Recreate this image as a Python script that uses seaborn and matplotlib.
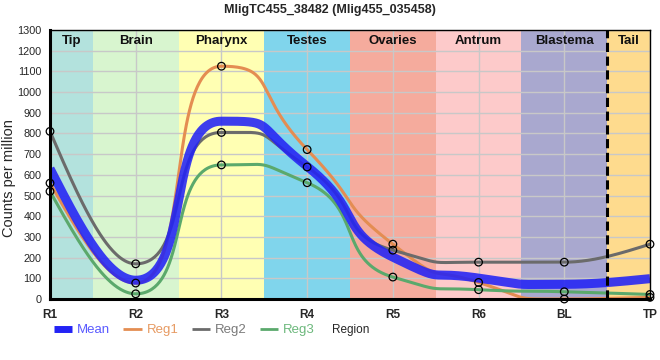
import numpy as np
import pandas as pd
import matplotlib
matplotlib.use("Agg")
import matplotlib.pyplot as plt
import seaborn as sns
from matplotlib.lines import Line2D

regions = ["R1", "R2", "R3", "R4", "R5", "R6", "BL", "TP"]
reg1 = [560, 77, 1125, 722, 265, 80, 0, 8]
reg2 = [810, 170, 805, 638, 236, 178, 178, 265]
reg3 = [520, 25, 648, 562, 106, 45, 35, 22]
mean = [(a + b + c) / 3 for a, b, c in zip(reg1, reg2, reg3)]

band_names = ["Tip", "Brain", "Pharynx", "Testes", "Ovaries", "Antrum", "Blastema", "Tail"]
band_colors = ["#b3e2dd", "#d8f5cf", "#ffffb3", "#80d5ec", "#f5ab9d", "#fdcaca", "#a9a8cf", "#fedb8e"]
title = "MligTC455_38482 (Mlig455_035458)"

series_colors = {"Mean": "#2323f5", "Reg1": "#e48d52", "Reg2": "#6b6b6b", "Reg3": "#5ba96c"}


def smooth_curve(x, y, a_mid=0.65, a_end=1 / 3, n=80):
    """Monotone (Steffen) tangents, cubic Bezier segments."""
    x = np.asarray(x, float); y = np.asarray(y, float)
    h = np.diff(x); d = np.diff(y) / h
    k = len(x); m = np.zeros(k)
    for i in range(1, k - 1):
        p = (d[i - 1] * h[i] + d[i] * h[i - 1]) / (h[i - 1] + h[i])
        m[i] = (np.sign(d[i - 1]) + np.sign(d[i])) * min(abs(d[i - 1]), abs(d[i]), 0.5 * abs(p))
    m[0] = (3 * d[0] - m[1]) / 2
    m[-1] = (3 * d[-1] - m[-2]) / 2
    xs, ys = [], []
    t = np.linspace(0, 1, n)
    for i in range(k - 1):
        a = a_end if i in (0, k - 2) else a_mid
        p0 = np.array([x[i], y[i]])
        p1 = np.array([x[i] + a * h[i], y[i] + a * h[i] * m[i]])
        p2 = np.array([x[i + 1] - a * h[i], y[i + 1] - a * h[i] * m[i + 1]])
        p3 = np.array([x[i + 1], y[i + 1]])
        b = ((1 - t) ** 3)[:, None] * p0 + (3 * (1 - t) ** 2 * t)[:, None] * p1 \
            + (3 * (1 - t) * t ** 2)[:, None] * p2 + (t ** 3)[:, None] * p3
        xs.append(b[:, 0]); ys.append(b[:, 1])
    return np.concatenate(xs), np.concatenate(ys)


fig = plt.figure(figsize=(6.6, 3.6), dpi=100)
sns.set_style("white")
plt.rcParams["font.family"] = ["Liberation Sans", "DejaVu Sans"]
ax = fig.add_axes([50 / 660, 1 - 299 / 360, 600 / 660, 269 / 360])

xpos = np.arange(len(regions))

for i, (nm, c) in enumerate(zip(band_names, band_colors)):
    ax.axvspan(i - 0.5, i + 0.5, color=c, zorder=0.1, lw=0)
    xc = min(max(i, 0.25), len(regions) - 1.25)
    ax.text(xc, 0.958, nm, transform=ax.get_xaxis_transform(), ha="center", va="center",
            fontsize=9.5, fontweight="bold", color="#111111", zorder=5)

rows = []
for nm, vals in [("Reg1", reg1), ("Reg2", reg2), ("Reg3", reg3)]:
    sx, sy = smooth_curve(xpos, vals)
    rows.append(pd.DataFrame({"x": sx, "y": sy, "series": nm}))
df_lines = pd.concat(rows)
sns.lineplot(data=df_lines, x="x", y="y", hue="series", palette=series_colors, lw=2.2,
             ax=ax, legend=False, zorder=3, sort=False, estimator=None)
mx, my = smooth_curve(xpos, mean)
df_mean = pd.DataFrame({"x": mx, "y": my})
sns.lineplot(data=df_mean, x="x", y="y", color=series_colors["Mean"], lw=6.5, alpha=0.88,
             ax=ax, legend=False, zorder=4, sort=False, estimator=None,
             solid_capstyle="butt")

pts = pd.DataFrame({"x": np.tile(xpos, 3), "y": reg1 + reg2 + reg3})
sns.scatterplot(data=pts, x="x", y="y", ax=ax, s=30, facecolor="none", edgecolor="black",
                linewidth=0.9, zorder=6, clip_on=False)

ax.axvline(len(regions) - 1.5, color="black", lw=2.2, ls=(0, (3, 1.5)), zorder=5)

ax.set_xlim(0, len(regions) - 1)
ax.set_ylim(0, 1300)
ax.set_xticks(xpos)
ax.set_xticklabels(regions, fontsize=8.5, fontweight="bold")
ax.set_yticks(np.arange(0, 1301, 100))
ax.tick_params(axis="y", labelsize=7.8, length=5, width=1, pad=1)
ax.tick_params(axis="x", length=5, width=1.5, pad=2)
ax.set_axisbelow(True)
ax.grid(True, color="#c8c8c8", lw=1)
ax.set_xlabel("")
ax.set_ylabel("Counts per million", fontsize=10.5)
ax.yaxis.set_label_coords(-0.056, 0.45)
for s in ["left", "bottom"]:
    ax.spines[s].set_linewidth(2.2)
for s in ["top", "right"]:
    ax.spines[s].set_linewidth(1)
for s in ax.spines.values():
    s.set_color("black"); s.set_zorder(7)

fig.suptitle(title, x=0.5, y=1 - 10 / 360, fontsize=9, fontweight="bold", va="center")

handles = [Line2D([], [], color=series_colors["Mean"], lw=5, solid_capstyle="butt"),
           Line2D([], [], color=series_colors["Reg1"], lw=2, solid_capstyle="butt"),
           Line2D([], [], color=series_colors["Reg2"], lw=2, solid_capstyle="butt"),
           Line2D([], [], color=series_colors["Reg3"], lw=2, solid_capstyle="butt")]
labels = ["Mean", "Reg1", "Reg2", "Reg3"]
leg = fig.legend(handles, labels, loc="center left", bbox_to_anchor=(54 / 660, 1 - 330 / 360),
                 ncol=4, frameon=False, fontsize=9.5, handlelength=1.4, handletextpad=0.35,
                 columnspacing=1.0, borderaxespad=0, borderpad=0,
                 labelcolor=["#5a5aff", "#e79a62", "#7a7a7a", "#6cb87c"])
fig.text(332 / 660, 1 - 330 / 360, "Region", fontsize=8.5, va="center", ha="left")

fig.savefig("out.png", dpi=100)
